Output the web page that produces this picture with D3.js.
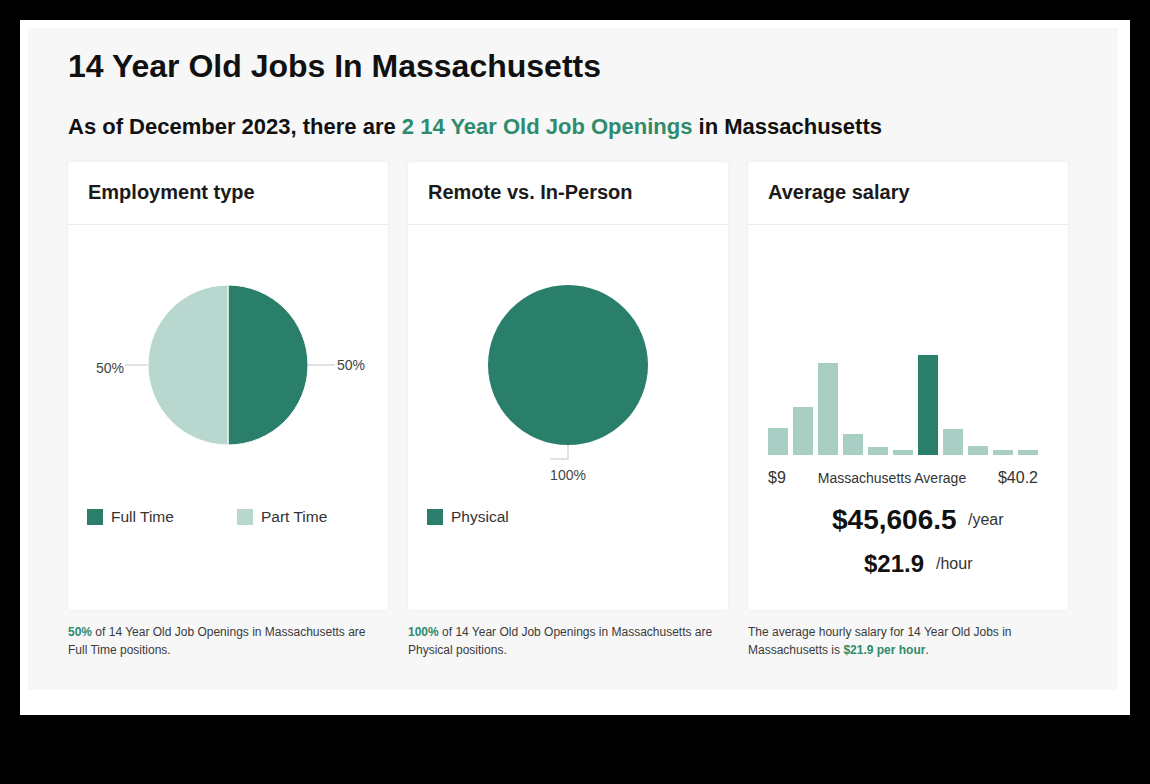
<!DOCTYPE html>
<html><head><meta charset="utf-8">
<script src="https://cdn.jsdelivr.net/npm/d3@7"></script>
<style>
html,body{margin:0;padding:0;background:#000;}
svg{display:block;font-family:"Liberation Sans",Arial,sans-serif;}
</style></head>
<body>
<svg id="chart" width="1150" height="784"></svg>
<script>
// ---- data ----
const titleText = "14 Year Old Jobs In Massachusetts";
const subtitleParts = ["As of December 2023, there are ", "2 14 Year Old Job Openings", " in Massachusetts"];
const cardTitles = ["Employment type", "Remote vs. In-Person", "Average salary"];
const employmentTypes = ["Full Time", "Part Time"];
const employmentValues = [50, 50];
const remoteTypes = ["Physical"];
const remoteValues = [100];
const salaryBins = [0,1,2,3,4,5,6,7,8,9,10];
const salaryCounts = [27, 48, 92, 21, 8, 5, 100, 26, 9, 5, 5];
const salaryAvgBin = 6;
const salaryAxisLabels = ["$9", "Massachusetts Average", "$40.2"];
const yearlySalary = "$45,606.5";
const hourlySalary = "$21.9";

const DARK = "#2a7f6a", LIGHT = "#b7d7cf", BARLIGHT = "#a9cfc4", GREEN_TXT = "#2e8b6d";

const svg = d3.select("#chart");
svg.append("rect").attr("x",0).attr("y",0).attr("width",1150).attr("height",784).attr("fill","#000");
svg.append("rect").attr("x",20).attr("y",20).attr("width",1110).attr("height",695).attr("fill","#fff");
svg.append("rect").attr("x",28).attr("y",28).attr("width",1090).attr("height",662).attr("fill","#f7f7f7");

svg.append("text").attr("x",68).attr("y",77).attr("font-size",32).attr("font-weight","bold")
  .attr("fill","#111").text(titleText);
const sub = svg.append("text").attr("x",68).attr("y",134).attr("font-size",22).attr("font-weight","bold").attr("fill","#111");
sub.append("tspan").text(subtitleParts[0]);
sub.append("tspan").attr("fill",GREEN_TXT).text(subtitleParts[1]);
sub.append("tspan").text(subtitleParts[2]);

const defs = svg.append("defs");
const f = defs.append("filter").attr("id","sh").attr("x","-5%").attr("y","-5%").attr("width","110%").attr("height","110%");
f.append("feDropShadow").attr("dx",0).attr("dy",0).attr("stdDeviation",1.5).attr("flood-color","#000").attr("flood-opacity",0.05);

const cardX = [68, 408, 748];
cardX.forEach((x,i)=>{
  svg.append("rect").attr("x",x).attr("y",162).attr("width",320).attr("height",448).attr("rx",4)
    .attr("fill","#fff").attr("filter","url(#sh)");
  svg.append("line").attr("x1",x).attr("x2",x+320).attr("y1",224.5).attr("y2",224.5).attr("stroke","#ececec");
  svg.append("text").attr("x",x+20).attr("y",199).attr("font-size",20).attr("font-weight","bold")
    .attr("fill","#1a1a1a").text(cardTitles[i]);
});

// ---- pie helper ----
const pie = d3.pie().sort(null).value(d=>d);
const arc = d3.arc().innerRadius(0).outerRadius(80);

// Employment pie
const g1 = svg.append("g").attr("transform","translate(228,365)");
const empColor = d3.scaleOrdinal().domain(employmentTypes).range([DARK, LIGHT]);
const empArcs = pie(employmentValues);
g1.selectAll("path").data(empArcs).join("path").attr("d",arc)
  .attr("fill",(d,i)=>empColor(employmentTypes[i])).attr("stroke","#fff").attr("stroke-width",1);
empArcs.forEach((d,i)=>{
  const a = (d.startAngle+d.endAngle)/2;
  const side = Math.sin(a) >= 0 ? 1 : -1;
  const p0 = [Math.sin(a)*80, -Math.cos(a)*80];
  const p1 = [side*(side>0?107:103), p0[1]];
  g1.append("line").attr("x1",p0[0]).attr("y1",p0[1]).attr("x2",p1[0]).attr("y2",p1[1])
    .attr("stroke","#d9d9d9").attr("stroke-width",1.5);
  g1.append("text").attr("x",side*(side>0?109:104)).attr("y",p0[1] + (side>0?5:8))
    .attr("text-anchor", side>0?"start":"end").attr("font-size",14).attr("fill","#444")
    .text(d3.format(".0f")(employmentValues[i])+"%");
});

// Remote pie
const g2 = svg.append("g").attr("transform","translate(568,365)");
const remColor = d3.scaleOrdinal().domain(remoteTypes).range([DARK]);
const remArcs = pie(remoteValues);
g2.selectAll("path").data(remArcs).join("path").attr("d",arc)
  .attr("fill",(d,i)=>remColor(remoteTypes[i]));
remArcs.forEach((d,i)=>{
  g2.append("path").attr("d","M0,80 L0,94 L-18,94").attr("fill","none")
    .attr("stroke","#d9d9d9").attr("stroke-width",1.5);
  g2.append("text").attr("x",0).attr("y",115).attr("text-anchor","middle").attr("font-size",14)
    .attr("fill","#444").text(remoteValues[i]+"%");
});

// legends
function legend(x0, items, color, spacing){
  items.forEach((t,i)=>{
    const x = x0 + i*spacing;
    svg.append("rect").attr("x",x).attr("y",509).attr("width",16).attr("height",16).attr("fill",color(t));
    svg.append("text").attr("x",x+24).attr("y",522).attr("font-size",15.5).attr("fill","#333").text(t);
  });
}
legend(87, employmentTypes, empColor, 150);
legend(427, remoteTypes, remColor, 150);

// histogram
const xb = d3.scaleBand().domain(salaryBins).range([768, 1038]).paddingInner(0.2).paddingOuter(0);
const yb = d3.scaleLinear().domain([0, d3.max(salaryCounts)]).range([455, 355]);
svg.append("g").selectAll("rect").data(salaryCounts).join("rect")
  .attr("x",(d,i)=>xb(salaryBins[i])).attr("width",xb.bandwidth())
  .attr("y",d=>yb(d)).attr("height",d=>455-yb(d))
  .attr("fill",(d,i)=>i===salaryAvgBin?DARK:BARLIGHT);
svg.append("text").attr("x",768).attr("y",483).attr("font-size",16).attr("fill","#333").text(salaryAxisLabels[0]);
svg.append("text").attr("x",892).attr("y",483).attr("text-anchor","middle").attr("font-size",14).attr("fill","#333").text(salaryAxisLabels[1]);
svg.append("text").attr("x",1038).attr("y",483).attr("text-anchor","end").attr("font-size",16).attr("fill","#333").text(salaryAxisLabels[2]);

svg.append("text").attr("x",832).attr("y",529).attr("font-size",28).attr("font-weight","bold").attr("fill","#111").text(yearlySalary);
svg.append("text").attr("x",968).attr("y",525).attr("font-size",16).attr("fill","#333").text("/year");
svg.append("text").attr("x",864).attr("y",572).attr("font-size",24).attr("font-weight","bold").attr("fill","#111").text(hourlySalary);
svg.append("text").attr("x",936).attr("y",569).attr("font-size",16).attr("fill","#333").text("/hour");

// footnotes
function foot(x, lines){
  lines.forEach((parts,li)=>{
    const t = svg.append("text").attr("x",x).attr("y",636+li*18).attr("font-size",12).attr("fill","#3a3a3a");
    parts.forEach(p=>{
      const s = t.append("tspan").text(p.t);
      if(p.g){ s.attr("fill",GREEN_TXT).attr("font-weight","bold"); }
    });
  });
}
foot(68, [[{t:employmentValues[0]+"%",g:true},{t:" of 14 Year Old Job Openings in Massachusetts are"}],[{t:"Full Time positions."}]]);
foot(408, [[{t:remoteValues[0]+"%",g:true},{t:" of 14 Year Old Job Openings in Massachusetts are"}],[{t:"Physical positions."}]]);
foot(748, [[{t:"The average hourly salary for 14 Year Old Jobs in"}],[{t:"Massachusetts is "},{t:hourlySalary+" per hour",g:true},{t:"."}]]);
</script>
</body></html>
